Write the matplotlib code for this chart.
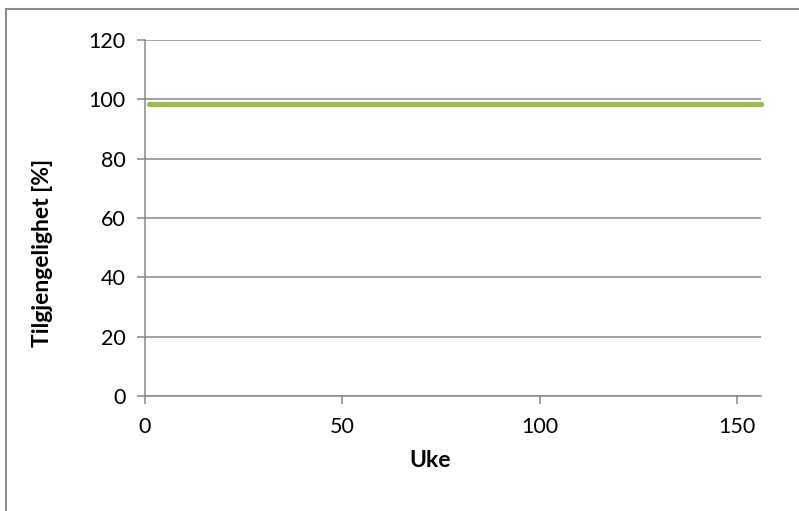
import matplotlib.pyplot as plt
from matplotlib.lines import Line2D

# availability per week (flat over the whole period)
weeks = [1, 156]
availability = [98.5, 98.5]

yticks = [0, 20, 40, 60, 80, 100, 120]
xticks = [0, 50, 100, 150]

plt.rcParams['font.family'] = ['Lato', 'DejaVu Sans']

fig = plt.figure(figsize=(7.99, 5.11), dpi=100)
ax = fig.add_axes([0.1815, 0.225, 0.771, 0.697])

grid_col = '#878787'
ax.plot(weeks, availability, color='#9BBB59', linewidth=3.8,
        solid_capstyle='round', zorder=3, clip_on=False)

ax.set_xlim(0, 156)
ax.set_ylim(0, 120)
ax.set_yticks(yticks)
ax.set_xticks(xticks)
ax.yaxis.grid(True, color=grid_col, linewidth=1.1)
ax.set_axisbelow(True)

for side in ['top', 'right']:
    ax.spines[side].set_visible(False)
for side in ['left', 'bottom']:
    ax.spines[side].set_color(grid_col)
    ax.spines[side].set_linewidth(1.1)

ax.tick_params(axis='both', colors=grid_col, labelcolor='black',
               labelsize=15.5, length=6, width=1.1, direction='out')
ax.tick_params(axis='y', pad=8)
ax.tick_params(axis='x', pad=9)

ax.set_xlabel('Uke', fontsize=16.5, fontweight='bold')
ax.set_ylabel('Tilgjengelighet [%]', fontsize=16.5, fontweight='bold')
ax.xaxis.set_label_coords(0.463, -0.152)
ax.yaxis.set_label_coords(-0.150, 0.402)

# chart border
fig.add_artist(Line2D([0.0075, 0.0075], [0, 0.983], color='#8c8c8c',
                      linewidth=1.5, transform=fig.transFigure))
fig.add_artist(Line2D([0.0075, 1.0], [0.983, 0.983], color='#8c8c8c',
                      linewidth=1.5, transform=fig.transFigure))

fig.savefig('out.png', dpi=100)
